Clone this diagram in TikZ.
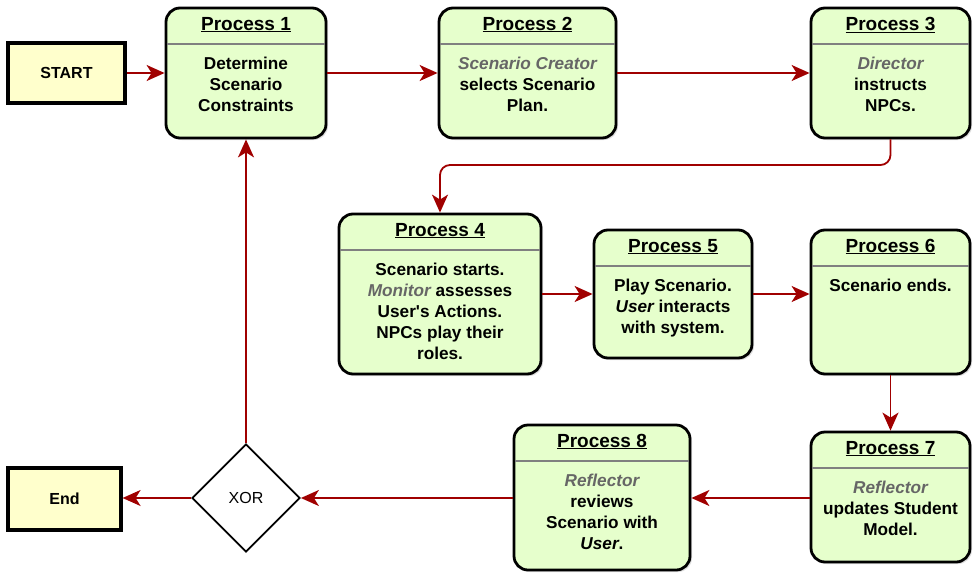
\documentclass[tikz,border=0pt]{standalone}
\usepackage{fontspec}
\setmainfont{Liberation Sans}
\usetikzlibrary{shapes.geometric,arrows.meta,shadows}
\definecolor{procfill}{HTML}{E6FFCC}
\definecolor{startfill}{HTML}{FFFFCC}
\definecolor{arrowred}{HTML}{A00000}
\definecolor{rolegray}{HTML}{666666}
\definecolor{headgray}{HTML}{808080}
\newcommand\gi[1]{{\itshape\color{rolegray}#1}}
\newcommand\ui[1]{{\itshape #1}}
\newcommand\procnode[7]{%
  \node[procbox, minimum width={(#4-#2)*1pt}, minimum height={(#5-#3)*1pt}]
    (#1) at ({(#2+#4)/2},{(#3+#5)/2}) {};
  \draw[headline] ([xshift=2pt,yshift=-37pt]#1.north west) -- ([xshift=-2pt,yshift=-37pt]#1.north east);
  \node[titletext, anchor=base] (#1t) at ([yshift=-23.5pt]#1.north) {\underline{#6}};
  \node[bodytext, anchor=north] (#1b) at ([yshift=-50.5pt]#1.north) {#7};
}
\begin{document}
\begin{tikzpicture}[x=1pt,y=-1pt,
  procbox/.style={draw=black, line width=2.8pt, fill=procfill, rounded corners=14pt,
    drop shadow={shadow xshift=2pt, shadow yshift=-2pt, opacity=0.25}},
  termbox/.style={draw=black, line width=3.2pt, fill=startfill,
    drop shadow={shadow xshift=2pt, shadow yshift=-2pt, opacity=0.3},
    font=\fontsize{16}{19}\selectfont\bfseries},
  headline/.style={draw=headgray, line width=1.8pt},
  titletext/.style={inner sep=0pt, font=\fontsize{19}{22}\selectfont\bfseries},
  bodytext/.style={inner sep=0pt, align=center, font=\fontsize{17.2}{21}\selectfont\bfseries},
  flow/.style={draw=arrowred, line width=1.8pt,
    -{Stealth[length=18pt, width=16pt, inset=5pt]}},
  xorbox/.style={diamond, draw=black, line width=1.8pt, fill=white,
    minimum width=108pt, minimum height=108pt, inner sep=0pt,
    font=\fontsize{16}{19}\selectfont}
]
\useasboundingbox (0,0) rectangle (974,573);

\node[termbox, minimum width=117pt, minimum height=60pt] (start) at (66.5,73) {START};
\node[termbox, minimum width=113pt, minimum height=62pt] (end) at (64.5,499) {End};
\node[xorbox] (xor) at (246,498) {XOR};

\procnode{p1}{166}{8}{326}{138}{Process 1}{Determine\\Scenario\\Constraints}
\procnode{p2}{439}{8}{616}{138}{Process 2}{\gi{Scenario Creator}\\selects Scenario\\Plan.}
\procnode{p3}{811}{8}{970}{138}{Process 3}{\gi{Director}\\instructs\\NPCs.}
\procnode{p4}{339}{214}{541}{374}{Process 4}{Scenario starts.\\\gi{Monitor} assesses\\User\textquotesingle s Actions.\\NPCs play their\\roles.}
\procnode{p5}{594}{230}{752}{358}{Process 5}{Play Scenario.\\\ui{User} interacts\\with system.}
\procnode{p6}{811}{230}{970}{374}{Process 6}{Scenario ends.}
\procnode{p7}{811}{432}{970}{562}{Process 7}{\gi{Reflector}\\updates Student\\Model.}
\procnode{p8}{514}{425}{690}{570}{Process 8}{\gi{Reflector}\\reviews\\Scenario with\\\ui{User}.}

\coordinate (bend) at (0,165);
\draw[flow] (start.east) -- (p1.west |- start.east);
\draw[flow] (p1.east) -- (p2.west |- p1.east);
\draw[flow] (p2.east) -- (p3.west |- p2.east);
\draw[flow, rounded corners=10pt] (p3.south) -- (p3.south |- bend) -- (p4.north |- bend) -- (p4.north);
\draw[flow] (p4.east) -- (p5.west |- p4.east);
\draw[flow] (p5.east) -- (p6.west |- p5.east);
\draw[flow] (p6.south) -- (p7.north);
\draw[flow] (p7.west |- xor.east) -- (p8.east |- xor.east);
\draw[flow] (p8.west |- xor.east) -- (xor.east);
\draw[flow] (xor.west) -- (end.east |- xor.west);
\draw[flow] (xor.north) -- (p1.south);
\end{tikzpicture}
\end{document}
